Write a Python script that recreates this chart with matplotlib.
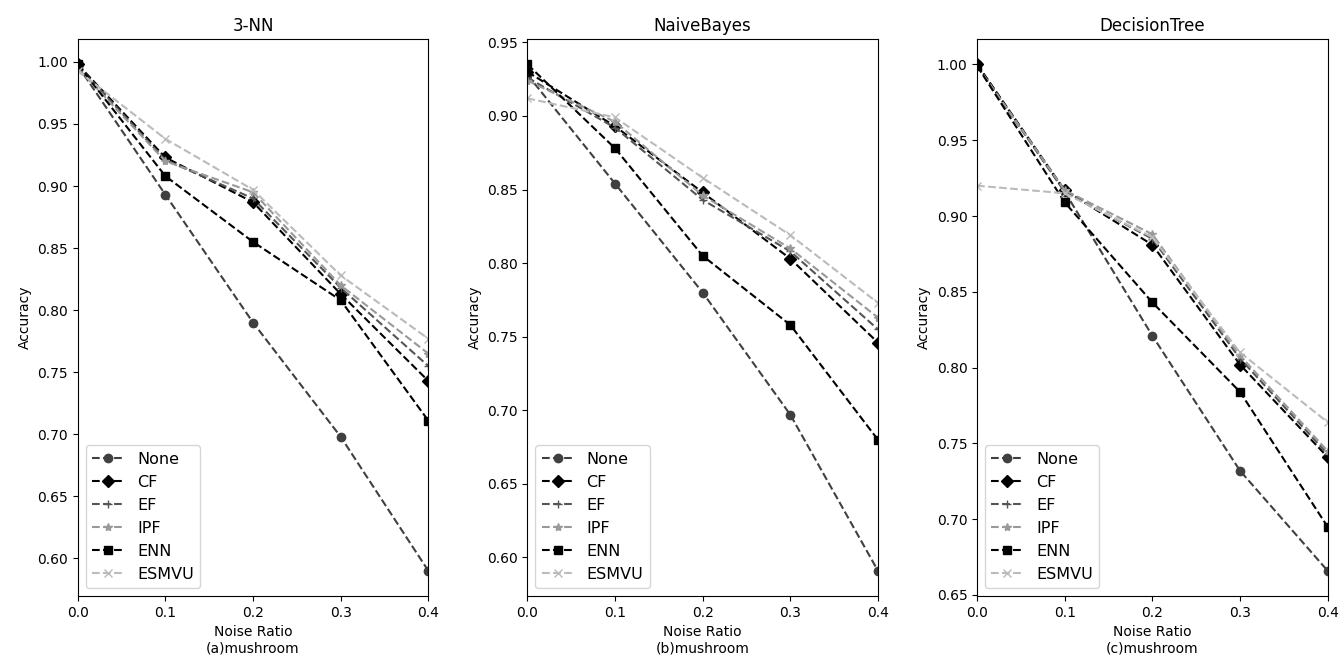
import numpy as np
import matplotlib
matplotlib.use("Agg")
import matplotlib.pyplot as plt

#====================1======================
#               data
#===========================================
noise = [0.0, 0.1, 0.2, 0.3, 0.4]
methods = ["None", "CF", "EF", "IPF", "ENN", "ESMVU"]
titles = ["3-NN", "NaiveBayes", "DecisionTree"]
sublabels = ["(a)mushroom", "(b)mushroom", "(c)mushroom"]

# 3-NN
knn_none  = [0.997, 0.893, 0.790, 0.698, 0.590]
knn_cf    = [0.998, 0.923, 0.887, 0.813, 0.743]
knn_ef    = [0.997, 0.921, 0.890, 0.818, 0.755]
knn_ipf   = [0.995, 0.920, 0.895, 0.820, 0.765]
knn_enn   = [0.998, 0.908, 0.855, 0.808, 0.711]
knn_esmvu = [0.993, 0.938, 0.897, 0.828, 0.777]

# NaiveBayes
nb_none  = [0.928, 0.854, 0.780, 0.697, 0.591]
nb_cf    = [0.930, 0.893, 0.848, 0.803, 0.746]
nb_ef    = [0.926, 0.892, 0.843, 0.808, 0.755]
nb_ipf   = [0.924, 0.896, 0.846, 0.810, 0.763]
nb_enn   = [0.935, 0.878, 0.805, 0.758, 0.680]
nb_esmvu = [0.912, 0.899, 0.858, 0.819, 0.773]

# DecisionTree
dt_none  = [1.000, 0.916, 0.821, 0.732, 0.666]
dt_cf    = [1.000, 0.917, 0.881, 0.802, 0.741]
dt_ef    = [0.999, 0.916, 0.885, 0.806, 0.743]
dt_ipf   = [0.999, 0.917, 0.888, 0.808, 0.745]
dt_enn   = [0.999, 0.909, 0.843, 0.784, 0.695]
dt_esmvu = [0.920, 0.915, 0.886, 0.810, 0.764]

panels = [
    [knn_none, knn_cf, knn_ef, knn_ipf, knn_enn, knn_esmvu],
    [nb_none, nb_cf, nb_ef, nb_ipf, nb_enn, nb_esmvu],
    [dt_none, dt_cf, dt_ef, dt_ipf, dt_enn, dt_esmvu],
]

#====================2======================
#               styles
#===========================================
colors  = ["#404040", "black", "#555555", "#999999", "black", "#bbbbbb"]
markers = ["o", "D", "+", "*", "s", "x"]

#====================3======================
#               plots
#===========================================
fig, axes = plt.subplots(1, 3, figsize=(13.41, 6.63), dpi=100)
fig.subplots_adjust(left=0.058, right=0.990, top=0.941, bottom=0.101, wspace=0.283)

for ax, series, title, sub in zip(axes, panels, titles, sublabels):
    for vals, name, c, m in zip(series, methods, colors, markers):
        ax.plot(noise, vals, linestyle="--", color=c, marker=m, label=name)
    ax.set_xlim(0.0, 0.4)
    ax.set_xticks(noise)
    ax.set_title(title)
    ax.set_xlabel("Noise Ratio\n" + sub)
    ax.set_ylabel("Accuracy")
    ax.legend(loc="lower left", fontsize=11.5)

fig.savefig("out.png", dpi=100)
